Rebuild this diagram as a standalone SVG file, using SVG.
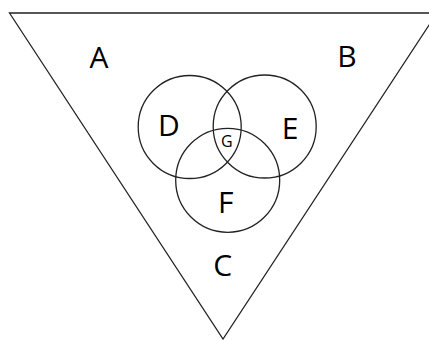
<svg xmlns="http://www.w3.org/2000/svg" width="429" height="340" viewBox="0 0 429 340">
<style>
.s{fill:none;stroke:#222;stroke-width:1.3}
.t{font-family:"Open Sans","Liberation Sans",sans-serif;font-size:30px;fill:#000;text-anchor:middle}
.g{font-size:16px}
</style>
<rect width="429" height="340" fill="#fff"/>
<g id="triangle"><polygon class="s" points="9.5,13 437,13 223,339"/></g>
<g id="circleD"><circle class="s" cx="189.7" cy="127" r="51.5"/></g>
<g id="circleE"><circle class="s" cx="264.7" cy="126.5" r="51.5"/></g>
<g id="circleF"><circle class="s" cx="227.7" cy="180.3" r="52"/></g>
<g id="labels">
<text class="t" x="99" y="68">A</text>
<text class="t" x="347" y="67">B</text>
<text class="t" x="169" y="136">D</text>
<text class="t" x="290" y="139">E</text>
<text class="t g" x="226.7" y="147">G</text>
<text class="t" x="225.7" y="213">F</text>
<text class="t" x="222.7" y="276">C</text>
</g>
</svg>
